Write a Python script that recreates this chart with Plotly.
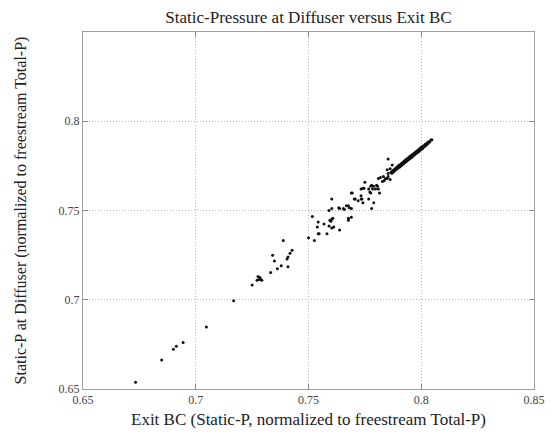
import plotly.graph_objects as go

# Exit BC static pressure (x) vs static pressure at diffuser (y), normalized to freestream total pressure
exit_bc = [
    0.6733, 0.6849, 0.6901, 0.6914, 0.6944, 0.7047, 0.7168, 0.7250,
    0.7272, 0.7276, 0.7284, 0.7289, 0.7293, 0.7280, 0.7332, 0.7362,
    0.7379, 0.7409, 0.7405, 0.7409, 0.7418, 0.7427, 0.7341, 0.7349,
    0.7388, 0.7500, 0.7526, 0.7543, 0.7547, 0.7582, 0.7539, 0.7543,
    0.7569, 0.7591, 0.7599, 0.7603, 0.7608, 0.7603, 0.7612, 0.7517,
    0.7677, 0.7690, 0.7638, 0.7634, 0.7659, 0.7677, 0.7681, 0.7690,
    0.7694, 0.7707, 0.7733, 0.7737, 0.7741, 0.7750, 0.7746, 0.7767,
    0.7772, 0.7780, 0.7789, 0.7780, 0.7789, 0.7802, 0.7810, 0.7815,
    0.7810, 0.7819, 0.7828, 0.7836, 0.7849, 0.7853, 0.7853, 0.7871,
    0.7849, 0.7862, 0.7733, 0.7741, 0.7690, 0.7703, 0.7720, 0.7733,
    0.7767, 0.7603, 0.7668, 0.7638, 0.7655, 0.7603, 0.7591, 0.7677,
    0.7595, 0.7776, 0.7784, 0.7776, 0.7797, 0.7832, 0.7841, 0.7853,
    0.7862, 0.7806,
    0.7866, 0.7870, 0.7874, 0.7878, 0.7882, 0.7885, 0.7889, 0.7892,
    0.7895, 0.7898, 0.7901, 0.7904, 0.7907, 0.7910, 0.7913, 0.7916,
    0.7919, 0.7922, 0.7925, 0.7928, 0.7931, 0.7934, 0.7937, 0.7940,
    0.7943, 0.7946, 0.7949, 0.7952, 0.7955, 0.7958, 0.7961, 0.7964,
    0.7967, 0.7970, 0.7973, 0.7976, 0.7979, 0.7982, 0.7985, 0.7988,
    0.7991, 0.7994, 0.7997, 0.8000, 0.8003, 0.8006, 0.8010, 0.8014,
    0.8018, 0.8022, 0.8026, 0.8030, 0.8034, 0.8038, 0.8043, 0.8047,
]
diffuser_p = [
    0.6538, 0.6663, 0.6723, 0.6739, 0.6761, 0.6848, 0.6995, 0.7082,
    0.7109, 0.7130, 0.7125, 0.7114, 0.7109, 0.7114, 0.7152, 0.7174,
    0.7190, 0.7185, 0.7228, 0.7239, 0.7261, 0.7277, 0.7250, 0.7217,
    0.7332, 0.7348, 0.7332, 0.7370, 0.7370, 0.7370, 0.7408, 0.7435,
    0.7424, 0.7413, 0.7440, 0.7451, 0.7457, 0.7402, 0.7408, 0.7467,
    0.7446, 0.7462, 0.7391, 0.7516, 0.7505, 0.7527, 0.7516, 0.7511,
    0.7598, 0.7565, 0.7582, 0.7565, 0.7543, 0.7658, 0.7625, 0.7620,
    0.7603, 0.7511, 0.7543, 0.7641, 0.7636, 0.7641, 0.7620, 0.7598,
    0.7679, 0.7685, 0.7663, 0.7668, 0.7679, 0.7707, 0.7788, 0.7755,
    0.7728, 0.7734, 0.7620, 0.7625, 0.7598, 0.7565, 0.7554, 0.7565,
    0.7565, 0.7565, 0.7527, 0.7511, 0.7511, 0.7511, 0.7500, 0.7457,
    0.7446, 0.7636, 0.7620, 0.7598, 0.7620, 0.7690, 0.7679, 0.7690,
    0.7674, 0.7636,
    0.7714, 0.7709, 0.7724, 0.7717, 0.7733, 0.7725, 0.7740, 0.7732,
    0.7747, 0.7738, 0.7753, 0.7744, 0.7758, 0.7750, 0.7765, 0.7756,
    0.7771, 0.7762, 0.7777, 0.7769, 0.7784, 0.7775, 0.7790, 0.7781,
    0.7796, 0.7787, 0.7802, 0.7793, 0.7808, 0.7799, 0.7814, 0.7805,
    0.7820, 0.7812, 0.7826, 0.7818, 0.7832, 0.7823, 0.7838, 0.7829,
    0.7844, 0.7836, 0.7851, 0.7842, 0.7857, 0.7848, 0.7863, 0.7857,
    0.7871, 0.7866, 0.7879, 0.7875, 0.7887, 0.7884, 0.7895, 0.7897,
]

x_tick_vals = [0.65, 0.7, 0.75, 0.8, 0.85]
x_tick_text = ["0.65", "0.7", "0.75", "0.8", "0.85"]
y_tick_vals = [0.65, 0.7, 0.75, 0.8]
y_tick_text = ["0.65", "0.7", "0.75", "0.8"]

font_family = "Liberation Serif, Times New Roman, serif"

fig = go.Figure()
fig.add_trace(go.Scatter(
    x=exit_bc, y=diffuser_p, mode="markers",
    marker=dict(size=3, color="#111111", line=dict(width=0)),
    showlegend=False,
))

axis_common = dict(
    range=[0.65, 0.85],
    showgrid=True, gridcolor="#b8b8b8", griddash="1px,2px", gridwidth=1,
    showline=True, linecolor="#a0a0a0", linewidth=1, mirror="ticks",
    ticks="inside", ticklen=5, tickcolor="#888888",
    zeroline=False,
    tickfont=dict(family=font_family, size=12, color="#444444"),
)

# The page body adds an 8px offset, so the figure is sized/margined to compensate.
fig.update_layout(
    width=549, height=429,
    margin=dict(l=71, r=14, t=24, b=38),
    paper_bgcolor="white", plot_bgcolor="white",
    font=dict(family=font_family, color="#222222"),
    title=dict(text="Static-Pressure at Diffuser versus Exit BC",
               x=0.5, xanchor="center", y=0.979, yanchor="middle",
               xref="paper",
               font=dict(family=font_family, size=17, color="#222222")),
    xaxis=dict(**axis_common, tickvals=x_tick_vals, ticktext=x_tick_text,
               title=dict(text="Exit BC (Static-P, normalized to freestream Total-P)",
                          standoff=6,
                          font=dict(family=font_family, size=17, color="#222222"))),
    yaxis=dict(**axis_common, tickvals=y_tick_vals, ticktext=y_tick_text,
               title=dict(text="Static-P at Diffuser (normalized to freestream Total-P)",
                          standoff=27,
                          font=dict(family=font_family, size=16, color="#222222"))),
)

fig.write_html("out.html")
